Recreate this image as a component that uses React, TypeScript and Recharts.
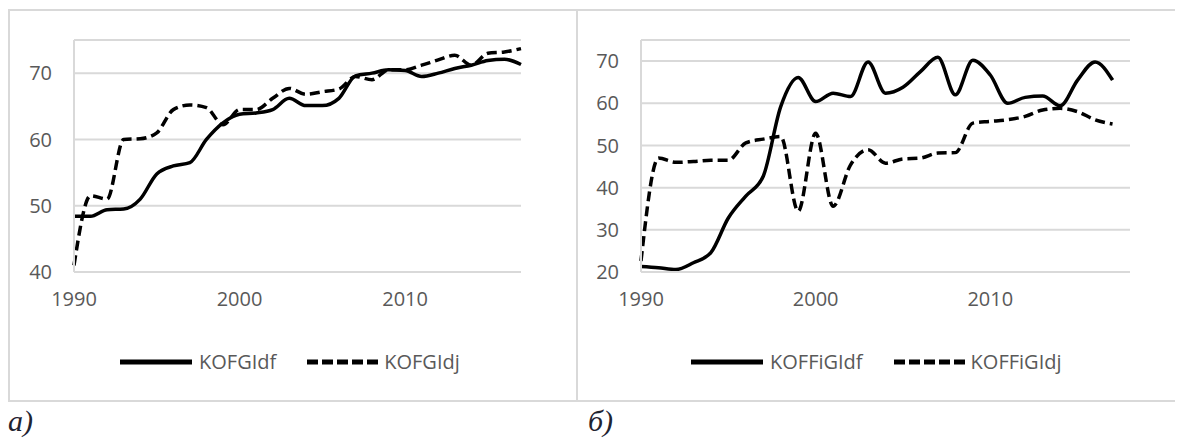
import { LineChart, Line, XAxis, YAxis, CartesianGrid } from "recharts";

// years on the category axis (panel б has one empty slot at 2018)
const YEARS_A = [
  "1990", "1991", "1992", "1993", "1994", "1995", "1996", "1997", "1998", "1999",
  "2000", "2001", "2002", "2003", "2004", "2005", "2006", "2007", "2008", "2009",
  "2010", "2011", "2012", "2013", "2014", "2015", "2016", "2017",
];
const YEARS_B = [...YEARS_A, "2018"];

// panel а
const KOFGIdf = [
  48.4, 48.4, 49.4, 49.5, 51.0, 54.8, 56.0, 56.5, 60.0, 62.5,
  63.8, 64.0, 64.5, 66.2, 65.1, 65.1, 66.2, 69.6, 70.0, 70.5,
  70.4, 69.5, 70.0, 70.7, 71.2, 71.9, 72.1, 71.3,
];
const KOFGIdj = [
  41.0, 51.5, 51.0, 60.0, 60.1, 61.0, 64.5, 65.2, 64.8, 62.2,
  64.5, 64.5, 66.2, 67.7, 66.8, 67.2, 67.6, 69.5, 69.0, 70.5,
  70.5, 71.2, 72.0, 72.7, 71.2, 73.0, 73.2, 73.7,
];

// panel б
const KOFFiGIdf = [
  21.3, 21.0, 20.6, 22.2, 24.6, 32.8, 38.0, 42.7, 59.2, 66.1,
  60.4, 62.4, 61.6, 69.8, 62.4, 63.8, 67.5, 70.9, 62.0, 70.2,
  66.7, 60.0, 61.4, 61.7, 59.4, 65.5, 69.8, 65.5, null,
];
const KOFFiGIdj = [
  22.6, 47.0, 46.0, 46.2, 46.5, 46.5, 50.6, 51.5, 52.1, 34.4,
  52.9, 35.6, 45.4, 49.0, 45.8, 46.8, 47.0, 48.2, 48.3, 55.3,
  55.7, 56.1, 56.9, 58.4, 58.8, 58.0, 56.1, 55.1, null,
];

const TICKS_A = [40, 50, 60, 70];
const TICKS_B = [20, 30, 40, 50, 60, 70];

const dataA = YEARS_A.map((y, i) => ({ year: y, df: KOFGIdf[i], dj: KOFGIdj[i] }));
const dataB = YEARS_B.map((y, i) => ({ year: y, df: KOFFiGIdf[i], dj: KOFFiGIdj[i] }));

const FONT = "'Open Sans', 'DejaVu Sans', sans-serif";
const GRID = "#d9d9d9";
const TEXT = "#595959";
const DASH = "10 5";

function LegendRow({ left, names }: { left: number; names: string[] }) {
  return (
    <div
      style={{
        position: "absolute",
        left,
        top: 348,
        display: "flex",
        alignItems: "center",
        fontFamily: FONT,
        fontSize: 20,
        color: TEXT,
        whiteSpace: "nowrap",
      }}
    >
      <svg width={74} height={26}>
        <line x1={1} y1={13} x2={73} y2={13} stroke="#000" strokeWidth={5} />
      </svg>
      <span style={{ marginLeft: 6, marginRight: 30 }}>{names[0]}</span>
      <svg width={74} height={26}>
        <line x1={1} y1={13} x2={73} y2={13} stroke="#000" strokeWidth={5} strokeDasharray="11 4" />
      </svg>
      <span style={{ marginLeft: 4 }}>{names[1]}</span>
    </div>
  );
}

function Panel({
  data,
  ticks,
  domain,
  width,
  marginLeft,
  marginRight,
}: {
  data: { year: string; df: number | null; dj: number | null }[];
  ticks: number[];
  domain: [number, number];
  width: number;
  marginLeft: number;
  marginRight: number;
}) {
  return (
    <LineChart
      width={width}
      height={390}
      data={data}
      margin={{ top: 30, right: marginRight, bottom: 98, left: marginLeft }}
    >
      <CartesianGrid vertical={false} stroke={GRID} strokeWidth={2} />
      <XAxis
        dataKey="year"
        interval={9}
        tickLine={false}
        axisLine={{ stroke: GRID, strokeWidth: 2 }}
        tickSize={6}
        tickMargin={14}
        height={30}
        tick={{ fontSize: 20, fill: TEXT, fontFamily: FONT }}
      />
      <YAxis
        type="number"
        domain={domain}
        ticks={ticks}
        allowDataOverflow
        tickLine={false}
        axisLine={{ stroke: GRID, strokeWidth: 2 }}
        tickSize={6}
        tickMargin={16}
        width={60}
        tick={{ fontSize: 20, fill: TEXT, fontFamily: FONT }}
      />
      <Line
        type="monotone"
        dataKey="df"
        stroke="#000"
        strokeWidth={3.5}
        dot={false}
        isAnimationActive={false}
      />
      <Line
        type="monotone"
        dataKey="dj"
        stroke="#000"
        strokeWidth={3.5}
        strokeDasharray={DASH}
        dot={false}
        isAnimationActive={false}
      />
    </LineChart>
  );
}

export default function App() {
  return (
    <div
      style={{
        position: "relative",
        width: 1183,
        height: 444,
        margin: "-8px 0 0 -8px",
        background: "#fff",
        overflow: "hidden",
      }}
    >
      {/* frames */}
      <div
        style={{
          position: "absolute",
          left: 8,
          top: 9,
          width: 566,
          height: 389,
          border: `2px solid ${GRID}`,
        }}
      />
      <div
        style={{
          position: "absolute",
          left: 574,
          top: 9,
          width: 606,
          height: 389,
          borderTop: `2px solid ${GRID}`,
          borderBottom: `2px solid ${GRID}`,
          borderRight: `2px solid ${GRID}`,
        }}
      />

      <div style={{ position: "absolute", left: 8, top: 10 }}>
        <Panel data={dataA} ticks={TICKS_A} domain={[40, 75]} width={567} marginLeft={6} marginRight={54} />
      </div>
      <div style={{ position: "absolute", left: 576, top: 10 }}>
        <Panel data={dataB} ticks={TICKS_B} domain={[20, 75]} width={607} marginLeft={5} marginRight={53} />
      </div>

      <LegendRow left={119} names={["KOFGIdf", "KOFGIdj"]} />
      <LegendRow left={690} names={["KOFFiGIdf", "KOFFiGIdj"]} />

      <div
        style={{
          position: "absolute",
          left: 8,
          top: 404,
          fontFamily: "'Liberation Serif', serif",
          fontStyle: "italic",
          fontSize: 30,
          color: "#1f2430",
        }}
      >
        а)
      </div>
      <div
        style={{
          position: "absolute",
          left: 588,
          top: 404,
          fontFamily: "'Liberation Serif', serif",
          fontStyle: "italic",
          fontSize: 30,
          color: "#1f2430",
        }}
      >
        б)
      </div>
    </div>
  );
}
